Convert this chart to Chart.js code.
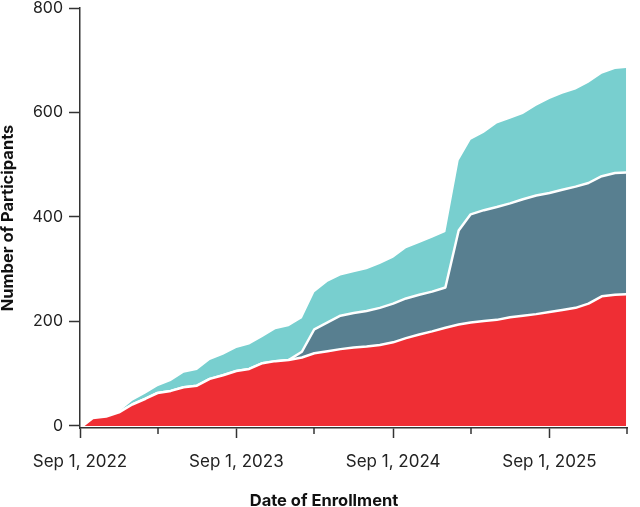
<!DOCTYPE html>
<html>
<head>
<meta charset="utf-8">
<script src="https://cdn.jsdelivr.net/npm/chart.js@4.4.1/dist/chart.umd.min.js"></script>
<style>
  html, body { margin: 0; padding: 0; background: #fff; }
  #wrap { width: 640px; height: 507px; }
</style>
</head>
<body>
<div id="wrap"><canvas id="chart" width="640" height="507"></canvas></div>
<script>
// ---- data (participants enrolled per group, stacked) ----
const enrollmentDates = [
  '2022-09-07', '2022-10-01', '2022-11-01', '2022-12-01',
  '2023-01-01', '2023-02-01', '2023-03-01', '2023-04-01', '2023-05-01', '2023-06-01',
  '2023-07-01', '2023-08-01', '2023-09-01', '2023-10-01', '2023-11-01', '2023-12-01',
  '2024-01-01', '2024-02-01', '2024-03-01', '2024-04-01', '2024-05-01', '2024-06-01',
  '2024-07-01', '2024-08-01', '2024-09-01', '2024-10-01', '2024-11-01', '2024-12-01',
  '2025-01-01', '2025-02-01', '2025-03-01', '2025-04-01', '2025-05-01', '2025-06-01',
  '2025-07-01', '2025-08-01', '2025-09-01', '2025-10-01', '2025-11-01', '2025-12-01',
  '2026-01-01', '2026-02-01', '2026-02-27'
];
const redCounts = [
  0, 15, 18, 26, 41, 52, 63, 67, 74, 77, 90, 97, 105, 109, 120, 124,
  126, 131, 139, 143, 147, 150, 152, 155, 160, 168, 175, 181,
  188, 194, 198, 201, 203, 208, 211, 214, 218, 222, 226, 234,
  248, 251, 252
];
const slateCounts = [
  0, 0, 0, 0, 0, 0, 0, 0, 0, 0, 0, 0, 0, 0, 0, 0,
  0, 11, 46, 55, 64, 66, 68, 71, 74, 76, 76, 76,
  77, 180, 207, 212, 216, 218, 223, 227, 228, 230, 232, 231,
  230, 233, 233
];
const tealCounts = [
  0, 0, 0, 1, 7, 10, 13, 19, 28, 30, 36, 39, 44, 47, 50, 61,
  65, 64, 71, 78, 77, 78, 80, 84, 88, 96, 99, 103,
  106, 134, 143, 148, 160, 162, 163, 172, 180, 184, 186, 192,
  196, 199, 200
];
const majorTickDates = ['2022-09-01', '2023-09-01', '2024-09-01', '2025-09-01'];
const majorTickLabels = ['Sep 1, 2022', 'Sep 1, 2023', 'Sep 1, 2024', 'Sep 1, 2025'];
const minorTickDates = ['2023-03-01', '2024-03-01', '2025-03-01', '2026-03-01'];
const yTicks = [0, 200, 400, 600, 800];

// days since Sep 1, 2022
const origin = Date.parse('2022-09-01');
const toDay = d => (Date.parse(d) - origin) / 86400000;
const dayValues = enrollmentDates.map(toDay);
const majorDays = majorTickDates.map(toDay);
const minorDays = minorTickDates.map(toDay);

const toPoints = arr => arr.map((v, i) => ({ x: dayValues[i], y: v }));

const axisColor = '#333';
const textColor = '#222';
const font = 'Inter';

// minor ticks (shorter) + x title
const extras = {
  id: 'extras',
  afterDraw(chart) {
    const { ctx } = chart;
    const x = chart.scales.x;
    ctx.save();
    ctx.strokeStyle = axisColor;
    ctx.lineWidth = 1.5;
    minorDays.forEach(d => {
      const px = Math.round(x.getPixelForValue(d));
      ctx.beginPath();
      ctx.moveTo(px, x.top);
      ctx.lineTo(px, x.top + 6);
      ctx.stroke();
    });
    ctx.fillStyle = '#111';
    ctx.font = 'bold 16.5px ' + font;
    ctx.textAlign = 'center';
    ctx.textBaseline = 'alphabetic';
    ctx.fillText('Date of Enrollment', 324, 506);
    ctx.restore();
  }
};

const areaBase = {
  pointRadius: 0,
  pointHoverRadius: 0,
  tension: 0,
  borderColor: '#fff',
  borderWidth: 2.5,
  borderJoinStyle: 'round'
};

new Chart(document.getElementById('chart'), {
  type: 'line',
  data: {
    datasets: [
      { ...areaBase, label: 'Red', data: toPoints(redCounts), backgroundColor: '#EF2E34', fill: 'origin' },
      { ...areaBase, label: 'Slate', data: toPoints(slateCounts), backgroundColor: '#587F90', fill: '-1' },
      { ...areaBase, label: 'Teal', data: toPoints(tealCounts), backgroundColor: '#78CFCF', fill: '-1', borderWidth: 0 }
    ]
  },
  options: {
    responsive: false,
    animation: false,
    layout: { padding: { top: 8, right: 13, bottom: 0, left: 0 } },
    plugins: { legend: { display: false }, tooltip: { enabled: false } },
    scales: {
      x: {
        type: 'linear',
        min: 0,
        max: toDay('2026-03-01'),
        afterBuildTicks: scale => { scale.ticks = majorDays.concat(minorDays).map(v => ({ value: v })); },
        afterFit: scale => { scale.height = 79; scale.paddingLeft = 0; scale.paddingRight = 0; },
        ticks: {
          autoSkip: false,
          maxRotation: 0,
          padding: 14,
          color: textColor,
          font: { family: font, size: 17 },
          callback: v => {
            const i = majorDays.indexOf(v);
            return i >= 0 ? majorTickLabels[i] : '';
          }
        },
        grid: {
          drawOnChartArea: false,
          drawTicks: true,
          tickLength: 10,
          tickWidth: 1.5,
          color: ctx => (ctx.tick && majorDays.indexOf(ctx.tick.value) >= 0 ? axisColor : 'rgba(0,0,0,0)')
        },
        border: { display: true, color: axisColor, width: 1.5 }
      },
      y: {
        stacked: true,
        min: -4,
        max: 800,
        afterBuildTicks: scale => { scale.ticks = yTicks.map(v => ({ value: v })); },
        afterFit: scale => { scale.width = 80; scale.paddingTop = 0; scale.paddingBottom = 0; },
        ticks: {
          padding: 6,
          color: textColor,
          font: { family: font, size: 16 }
        },
        grid: {
          drawOnChartArea: false,
          drawTicks: true,
          tickLength: 11,
          tickWidth: 1.5,
          color: axisColor
        },
        border: { display: true, color: axisColor, width: 1.5 },
        title: {
          display: true,
          text: 'Number of Participants',
          color: '#111',
          font: { family: font, size: 16.5, weight: 'bold' },
          padding: { top: -2, bottom: 0 }
        }
      }
    }
  },
  plugins: [extras]
});
</script>
</body>
</html>
